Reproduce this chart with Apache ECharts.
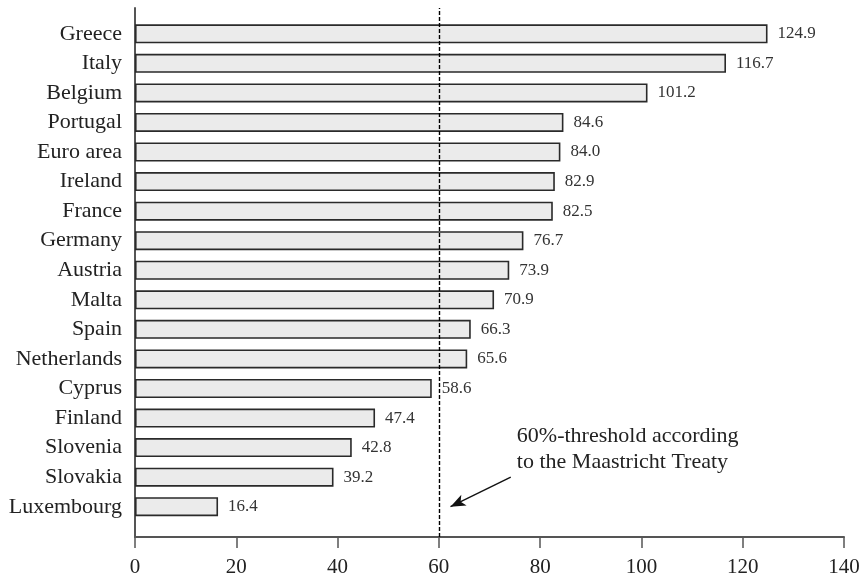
<!DOCTYPE html>
<html>
<head>
<meta charset="utf-8">
<script src="https://cdn.jsdelivr.net/npm/echarts@6/dist/echarts.min.js"></script>
<style>
  html, body { margin: 0; padding: 0; background: #fff; }
  #chart { width: 865px; height: 579px; }
</style>
</head>
<body>
<div id="chart"></div>
<script>
// debt-to-GDP ratios, top to bottom as in the picture
const countries = ['Greece', 'Italy', 'Belgium', 'Portugal', 'Euro area', 'Ireland', 'France', 'Germany',
  'Austria', 'Malta', 'Spain', 'Netherlands', 'Cyprus', 'Finland', 'Slovenia', 'Slovakia', 'Luxembourg'];
const debtRatio = [124.9, 116.7, 101.2, 84.6, 84.0, 82.9, 82.5, 76.7, 73.9, 70.9, 66.3, 65.6, 58.6, 47.4, 42.8, 39.2, 16.4];
const threshold = 60;
const xTicks = { min: 0, max: 140, step: 20 };
const noteText = '60%-threshold according\nto the Maastricht Treaty';

const FONT = 'Liberation Serif';
const AXIS = '#555';

const chart = echarts.init(document.getElementById('chart'));
chart.setOption({
  animation: false,
  backgroundColor: '#fff',
  grid: [
    // outer frame: axes + threshold line
    { left: 135, right: 21, top: 8, bottom: 42 },
    // inner band area for the bars
    { left: 135, right: 21, top: 19, bottom: 57.5 }
  ],
  xAxis: [
    {
      gridIndex: 0, type: 'value', min: xTicks.min, max: xTicks.max, interval: xTicks.step,
      axisLine: { show: true, lineStyle: { color: AXIS, width: 2 } },
      axisTick: { show: true, length: 11, lineStyle: { color: AXIS, width: 1.5 } },
      axisLabel: { fontFamily: FONT, fontSize: 21, color: '#222', margin: 20 },
      splitLine: { show: false }
    },
    { gridIndex: 1, type: 'value', min: xTicks.min, max: xTicks.max, show: false }
  ],
  yAxis: [
    {
      gridIndex: 0, type: 'value', min: 0, max: 1,
      axisLine: { show: true, lineStyle: { color: AXIS, width: 2 } },
      axisTick: { show: false }, axisLabel: { show: false }, splitLine: { show: false }
    },
    {
      gridIndex: 1, type: 'category', data: countries, inverse: true,
      axisLine: { show: false }, axisTick: { show: false },
      axisLabel: { fontFamily: FONT, fontSize: 22, color: '#222', margin: 13 }
    }
  ],
  series: [
    {
      type: 'bar', xAxisIndex: 1, yAxisIndex: 1, data: debtRatio, barWidth: 19,
      itemStyle: { color: '#ebebeb', borderColor: '#2a2a2a', borderWidth: 1.6 },
      label: {
        show: true, position: 'right', distance: 10,
        fontFamily: FONT, fontSize: 17, color: '#333',
        formatter: p => p.value.toFixed(1)
      },
      markLine: {
        silent: true, symbol: ['none', 'arrow'], symbolSize: [9, 15],
        lineStyle: { color: '#111', width: 1.4, type: 'solid' },
        label: { show: false },
        data: [[{ coord: [74.2, 'Slovakia'] }, { coord: [62.3, 'Luxembourg'] }]]
      },
      markPoint: {
        silent: true, symbol: 'circle', symbolSize: 0,
        itemStyle: { color: 'transparent' },
        label: {
          show: true, position: 'right', distance: 0, offset: [0, 2],
          fontFamily: FONT, fontSize: 22, lineHeight: 26, color: '#222',
          formatter: noteText
        },
        data: [{ coord: [75.4, 'Slovenia'] }]
      }
    },
    {
      type: 'scatter', xAxisIndex: 0, yAxisIndex: 0, data: [], z: 5,
      markLine: {
        silent: true, symbol: 'none',
        lineStyle: { color: '#000', width: 1.4, type: [4, 2] },
        label: { show: false },
        data: [{ xAxis: threshold }]
      }
    }
  ]
});
</script>
</body>
</html>
